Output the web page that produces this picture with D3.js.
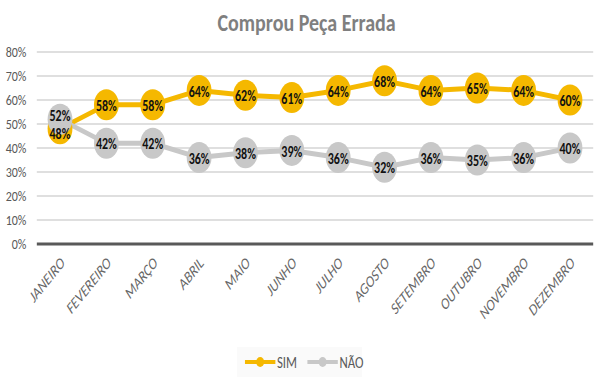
<!DOCTYPE html>
<html>
<head>
<meta charset="utf-8">
<script src="https://cdn.jsdelivr.net/npm/d3@7"></script>
<style>
  body { margin: 0; background: #fff; }
  svg { font-family: Carlito, Calibri, "Open Sans", sans-serif; display: block; }
</style>
</head>
<body>
<svg id="chart"></svg>
<script>
// Chart data
const months = ["JANEIRO", "FEVEREIRO", "MARÇO", "ABRIL", "MAIO", "JUNHO",
  "JULHO", "AGOSTO", "SETEMBRO", "OUTUBRO", "NOVEMBRO", "DEZEMBRO"];
const sim = [48, 58, 58, 64, 62, 61, 64, 68, 64, 65, 64, 60];
const nao = [52, 42, 42, 36, 38, 39, 36, 32, 36, 35, 36, 40];
const yTicks = [0, 10, 20, 30, 40, 50, 60, 70, 80];
const seriesNames = ["SIM", "NÃO"];
const seriesColors = ["#F5B800", "#C8C8C8"];

// The reference is a horizontally squeezed picture, so draw wider and squeeze with the viewBox
const W = 762, H = 385;
const margin = { top: 52, right: 21, bottom: 141, left: 46 };
const width = W - margin.left - margin.right;
const height = H - margin.top - margin.bottom;

const svg = d3.select("#chart")
  .attr("width", 610).attr("height", H)
  .attr("viewBox", `0 0 ${W} ${H}`)
  .attr("preserveAspectRatio", "none");
const g = svg.append("g").attr("transform", `translate(${margin.left},${margin.top})`);

const x = d3.scaleBand().domain(months).range([0, width]);
const y = d3.scaleLinear().domain([0, 80]).range([height, 0]);

// Title
svg.append("text")
  .attr("x", W / 2 + 2).attr("y", 31)
  .attr("text-anchor", "middle")
  .style("font-size", "25px").style("font-weight", "bold")
  .attr("fill", "#7F7F7F")
  .text("Comprou Peça Errada");

// Gridlines
g.selectAll(".grid")
  .data(yTicks.filter(d => d > 0))
  .enter().append("line")
  .attr("x1", 0).attr("x2", width)
  .attr("y1", d => y(d)).attr("y2", d => y(d))
  .attr("stroke", "#D4D4D4").attr("stroke-width", 1.5);

// Y axis labels
const yAxis = g.append("g")
  .call(d3.axisLeft(y).tickValues(yTicks).tickFormat(d => d + "%").tickSize(0).tickPadding(13));
yAxis.select(".domain").remove();
yAxis.selectAll("text")
  .attr("fill", "#595959").style("font-size", "15px")
  .style("font-family", "Carlito, Calibri, sans-serif");

// Baseline
g.append("line")
  .attr("x1", 0).attr("x2", width)
  .attr("y1", y(0)).attr("y2", y(0))
  .attr("stroke", "#595959").attr("stroke-width", 3);

// X axis labels
g.selectAll(".xlab")
  .data(months)
  .enter().append("text")
  .attr("transform", d => `translate(${x(d) + x.bandwidth() / 2 + 3},${height + 16}) rotate(-45)`)
  .attr("text-anchor", "end")
  .attr("dy", "0.35em")
  .style("font-size", "16px").style("font-style", "italic")
  .attr("fill", "#666")
  .text(d => d);

const cx = (d, i) => x(months[i]) + x.bandwidth() / 2;
const line = d3.line().x((d, i) => cx(d, i)).y(d => y(d));

[sim, nao].forEach((vals, s) => {
  g.append("path")
    .datum(vals)
    .attr("fill", "none")
    .attr("stroke", seriesColors[s])
    .attr("stroke-width", 5)
    .attr("stroke-linejoin", "round")
    .attr("d", line);
});

[sim, nao].forEach((vals, s) => {
  g.selectAll(".m" + s)
    .data(vals)
    .enter().append("circle")
    .attr("cx", cx).attr("cy", d => y(d))
    .attr("r", 15.5)
    .attr("fill", seriesColors[s]);
});

// Data labels, nudged apart where the two series overlap
[sim, nao].forEach((vals, s) => {
  g.selectAll(".l" + s)
    .data(vals)
    .enter().append("text")
    .attr("x", cx)
    .attr("y", (d, i) => {
      const other = s === 0 ? nao[i] : sim[i];
      let off = 1;
      if (Math.abs(d - other) < 8) off = d < other ? 5 : -3;
      return y(d) + off;
    })
    .attr("dy", "0.35em")
    .attr("text-anchor", "middle")
    .style("font-size", "15px").style("font-weight", "bold")
    .attr("fill", "#111")
    .text(d => d + "%");
});

// Legend
const legend = svg.append("g").attr("transform", "translate(306,362)");
legend.append("rect")
  .attr("x", -10).attr("y", -15).attr("width", 156).attr("height", 30)
  .attr("fill", "#FAFAFA");
seriesNames.forEach((name, i) => {
  const lx = i * 78;
  legend.append("line")
    .attr("x1", lx).attr("x2", lx + 38).attr("y1", 0).attr("y2", 0)
    .attr("stroke", seriesColors[i]).attr("stroke-width", 4);
  legend.append("circle")
    .attr("cx", lx + 19).attr("cy", 0).attr("r", 5)
    .attr("fill", seriesColors[i]);
  legend.append("text")
    .attr("x", lx + 40).attr("y", 0).attr("dy", "0.35em")
    .style("font-size", "16px").attr("fill", "#595959")
    .text(name);
});
</script>
</body>
</html>
